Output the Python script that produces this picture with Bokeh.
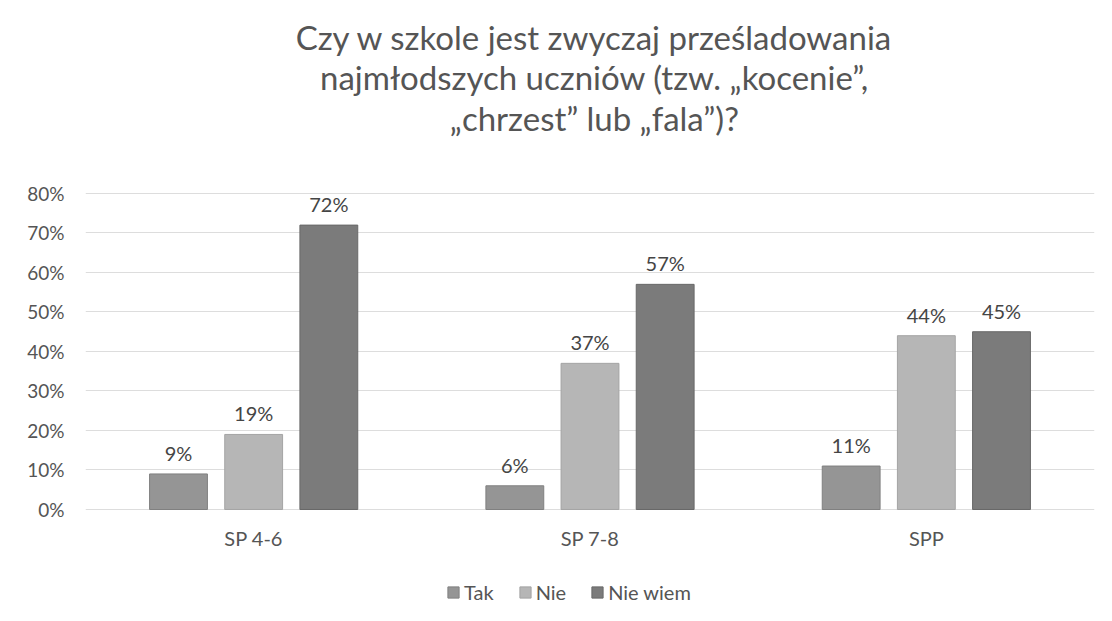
from bokeh.plotting import figure
from bokeh.models import (ColumnDataSource, FactorRange, Legend, LegendItem,
                          NumeralTickFormatter, FixedTicker, Range1d)
from bokeh.transform import dodge
from bokeh.core.properties import value
from bokeh.embed import file_html
from bokeh.resources import INLINE

categories = ["SP 4-6", "SP 7-8", "SPP"]
series = ["Tak", "Nie", "Nie wiem"]
tak = [0.09, 0.06, 0.11]
nie = [0.19, 0.37, 0.44]
nie_wiem = [0.72, 0.57, 0.45]
y_ticks = [0.0, 0.1, 0.2, 0.3, 0.4, 0.5, 0.6, 0.7, 0.8]
title_lines = ["Czy w szkole jest zwyczaj prześladowania",
               "najmłodszych uczniów (tzw. „kocenie”,",
               "„chrzest” lub „fala”)?"]

colors = ["#959595", "#b6b6b6", "#7b7b7b"]
edge = ["#808080", "#a4a4a4", "#686868"]
FONT = "Lato"
TXT = "#555555"

src = ColumnDataSource(dict(
    cat=categories, Tak=tak, Nie=nie, NieWiem=nie_wiem,
    Tak_l=[f"{round(v*100)}%" for v in tak],
    Nie_l=[f"{round(v*100)}%" for v in nie],
    NieWiem_l=[f"{round(v*100)}%" for v in nie_wiem],
))

# frame covers the whole figure height; 0..80% occupies the plotting band
p = figure(x_range=FactorRange(*categories), y_range=Range1d(-0.2633, 1.2886),
           width=1104, height=613, output_backend="svg", toolbar_location=None,
           min_border_left=85, min_border_right=10, min_border_top=0, min_border_bottom=0)

cols = ["Tak", "Nie", "NieWiem"]
offs = [-0.2235, 0.0, 0.2235]
items = []
for c, o, col, ec, name in zip(cols, offs, colors, edge, series):
    r = p.vbar(x=dodge("cat", o, range=p.x_range), top=c, bottom=0, width=0.172, source=src,
               fill_color=col, line_color=ec, line_width=1)
    p.text(x=dodge("cat", o, range=p.x_range), y=c, text=c + "_l", source=src,
           text_align="center", text_baseline="alphabetic", y_offset=-21,
           text_font=value(FONT), text_font_size="20px", text_color="#454545")
    items.append(LegendItem(label=name, renderers=[r]))

# category labels under the bars
p.text(x="cat", y=0, text="cat", source=src, text_align="center",
       text_baseline="alphabetic", y_offset=29,
       text_font=value(FONT), text_font_size="20px", text_color=TXT)

# title (three lines)
for line, off in zip(title_lines, [-156, -116, -75]):
    p.text(x=["SP 7-8"], y=[0.8], text=[line], text_align="center",
           text_baseline="alphabetic", x_offset=4.5, y_offset=off,
           text_font=value(FONT), text_font_size="33px", text_color=TXT)

legend = Legend(items=items, orientation="horizontal", location=(361, 9),
                label_text_font=FONT, label_text_font_size="20px", label_text_color=TXT,
                glyph_width=14, glyph_height=14, spacing=24, label_standoff=4,
                padding=0, border_line_color=None, background_fill_alpha=0)
p.add_layout(legend)

p.yaxis.ticker = FixedTicker(ticks=y_ticks)
p.yaxis.formatter = NumeralTickFormatter(format="0%")
p.yaxis.axis_line_color = None
p.yaxis.major_tick_line_color = None
p.yaxis.major_tick_out = 0
p.yaxis.major_tick_in = 0
p.yaxis.minor_tick_line_color = None
p.yaxis.major_label_text_font = FONT
p.yaxis.major_label_text_font_size = "19px"
p.yaxis.major_label_text_color = TXT
p.yaxis.major_label_standoff = 21
p.xaxis.visible = False

p.xgrid.grid_line_color = None
p.ygrid.grid_line_color = "#dddddd"
p.outline_line_color = None
p.x_range.range_padding = 0.0
p.x_range.group_padding = 0.0

open("out.html", "w").write(file_html(p, INLINE))
